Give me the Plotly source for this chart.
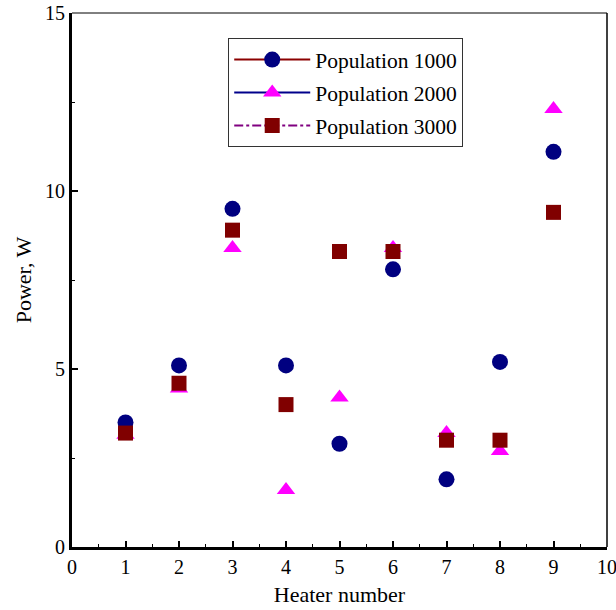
import plotly.graph_objects as go

# Heater numbers and measured power per population size
heaters = [1, 2, 3, 4, 5, 6, 7, 8, 9]
pop_1000 = [3.5, 5.1, 9.5, 5.1, 2.9, 7.8, 1.9, 5.2, 11.1]
pop_2000 = [3.15, 4.45, 8.4, 1.6, 4.2, 8.4, 3.2, 2.7, 12.3]
pop_3000 = [3.2, 4.6, 8.9, 4.0, 8.3, 8.3, 3.0, 3.0, 9.4]

series_names = ["Population 1000", "Population 2000", "Population 3000"]

FONT = "Times New Roman"

fig = go.Figure()

# Markers (plotted without connecting lines)
marker_styles = [
    dict(symbol="circle", color="#000080", size=16),
    dict(symbol="triangle-up", color="#ff00ff", size=16),
    dict(symbol="square", color="#800000", size=15),
]
line_styles = [
    dict(color="#8b0000", width=2, dash="solid"),
    dict(color="#00008b", width=2, dash="solid"),
    dict(color="#800080", width=2, dash="dashdot"),
]

for name, vals, mk in zip(series_names, [pop_1000, pop_2000, pop_3000], marker_styles):
    fig.add_trace(go.Scatter(
        x=heaters, y=vals, mode="markers", marker=mk,
        showlegend=False, name=name, cliponaxis=False,
    ))

# Legend entries with line + marker samples
for i, (name, mk, ln) in enumerate(zip(series_names, marker_styles, line_styles)):
    fig.add_trace(go.Scatter(
        x=[None], y=[None], mode="lines+markers", marker=mk, line=ln,
        name=name, showlegend=True, legendgroup=f"g{i}",
    ))

# Thin top and right frame lines
fig.add_shape(type="line", xref="paper", yref="paper", x0=0, x1=1, y0=1, y1=1,
              line=dict(color="black", width=1))
fig.add_shape(type="line", xref="paper", yref="paper", x0=1, x1=1, y0=0, y1=1,
              line=dict(color="black", width=1.5))

fig.update_layout(
    width=616, height=610,
    margin=dict(l=72, r=9, t=13, b=63, autoexpand=False),
    paper_bgcolor="white", plot_bgcolor="white",
    font=dict(family=FONT, size=20, color="black"),
    legend=dict(
        x=0.292, y=0.953, xanchor="left", yanchor="top",
        bgcolor="white", bordercolor="#333333", borderwidth=1,
        font=dict(family=FONT, size=21.5),
        itemwidth=76, tracegroupgap=2,
    ),
    xaxis=dict(
        range=[0, 10], dtick=1, tick0=0, automargin=False,
        ticklabeloverflow="allow",
        showgrid=False, zeroline=False,
        showline=True, linecolor="black", linewidth=3,
        ticks="inside", ticklen=6, tickwidth=1.5, tickcolor="black",
        minor=dict(dtick=0.5, ticks="inside", ticklen=3, tickwidth=1, tickcolor="black"),
        tickfont=dict(family=FONT, size=20),
        title=dict(text="Heater number", font=dict(family=FONT, size=22), standoff=10),
    ),
    yaxis=dict(
        range=[0, 15], dtick=5, tick0=0, automargin=False,
        ticklabeloverflow="allow",
        showgrid=False, zeroline=False,
        showline=True, linecolor="black", linewidth=3,
        ticks="inside", ticklen=6, tickwidth=1.5, tickcolor="black",
        minor=dict(dtick=2.5, ticks="inside", ticklen=3, tickwidth=1, tickcolor="black"),
        tickfont=dict(family=FONT, size=20),
        title=dict(text="Power, W", font=dict(family=FONT, size=22), standoff=8),
    ),
)

fig.write_html("out.html")
